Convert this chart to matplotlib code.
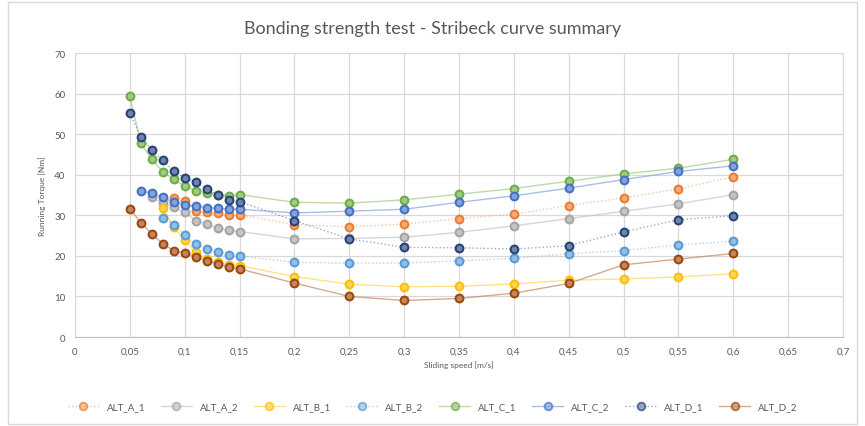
import numpy as np
import matplotlib
matplotlib.use('Agg')
import matplotlib.pyplot as plt
from matplotlib.colors import to_rgb
from matplotlib.ticker import FuncFormatter, MultipleLocator
from matplotlib.patches import Rectangle

plt.rcParams['font.family'] = ['Lato', 'DejaVu Sans']

nan = np.nan

# sliding speed [m/s]
speed = [0.05, 0.06, 0.07, 0.08, 0.09, 0.10, 0.11, 0.12, 0.13, 0.14, 0.15,
         0.20, 0.25, 0.30, 0.35, 0.40, 0.45, 0.50, 0.55, 0.60]

# running torque [Nm]
alt_a_1 = [nan, nan, nan, nan, 34.3, 33.6, 31.1, 30.7, 30.5, 30.1, 30.1,
           27.7, 27.2, 27.8, 29.2, 30.3, 32.4, 34.3, 36.5, 39.5]
alt_a_2 = [nan, nan, 34.4, 33.0, 32.0, 30.7, 28.7, 27.8, 26.9, 26.3, 26.0,
           24.2, 24.3, 24.6, 25.8, 27.4, 29.2, 31.0, 32.8, 35.1]
alt_b_1 = [nan, nan, nan, 31.8, 27.0, 23.8, 21.0, 19.3, 18.4, 17.8, 17.6,
           14.9, 13.0, 12.4, 12.5, 13.1, 14.0, 14.3, 14.8, 15.6]
alt_b_2 = [nan, nan, nan, 29.4, 27.5, 25.2, 22.9, 21.7, 21.0, 20.3, 20.0,
           18.4, 18.2, 18.2, 18.8, 19.4, 20.5, 21.3, 22.7, 23.6]
alt_c_1 = [59.3, 47.7, 43.8, 40.7, 38.9, 37.2, 36.0, 35.6, 35.1, 34.8, 35.1,
           33.2, 33.0, 33.8, 35.2, 36.6, 38.4, 40.2, 41.6, 43.8]
alt_c_2 = [nan, 36.0, 35.5, 34.4, 33.2, 32.6, 32.3, 31.9, 31.8, 31.5, 31.5,
           30.6, 31.0, 31.5, 33.2, 34.8, 36.7, 38.8, 40.8, 42.2]
alt_d_1 = [55.1, 49.4, 46.1, 43.6, 40.8, 39.3, 38.1, 36.6, 35.0, 33.8, 33.4,
           28.7, 24.2, 22.1, 22.0, 21.7, 22.5, 25.9, 28.9, 29.9]
alt_d_2 = [31.6, 28.2, 25.4, 23.0, 21.3, 20.7, 19.8, 18.8, 18.0, 17.2, 16.8,
           13.3, 10.0, 9.0, 9.5, 10.8, 13.2, 17.8, 19.2, 20.6]

names = ['ALT_A_1', 'ALT_A_2', 'ALT_B_1', 'ALT_B_2',
         'ALT_C_1', 'ALT_C_2', 'ALT_D_1', 'ALT_D_2']
series = [alt_a_1, alt_a_2, alt_b_1, alt_b_2, alt_c_1, alt_c_2, alt_d_1, alt_d_2]
colors = ['#ED7D31', '#A5A5A5', '#FFC000', '#5B9BD5',
          '#70AD47', '#4472C4', '#264478', '#9E480E']
styles = [':', '-', '-', ':', '-', '-', ':', '-']

text_col = '#595959'


def tint(c, f):
    # blend a colour towards white
    r, g, b = to_rgb(c)
    return (r + (1 - r) * f, g + (1 - g) * f, b + (1 - b) * f)


fig = plt.figure(figsize=(8.65, 4.27), dpi=100)
ax = fig.add_axes([0.0867, 0.2084, 0.8879, 0.6651])

for name, vals, col, ls in zip(names, series, colors, styles):
    ax.plot(speed, vals, linestyle=ls, color=tint(col, 0.35), linewidth=1.0,
            alpha=0.7, marker='o', markersize=5.5,
            markerfacecolor=tint(col, 0.35), markeredgecolor=col,
            markeredgewidth=1.4, label=name)
    # markers drawn again without transparency
    ax.plot(speed, vals, linestyle='none', marker='o', markersize=5.5,
            markerfacecolor=tint(col, 0.35), markeredgecolor=col,
            markeredgewidth=1.4)

ax.set_xlim(0, 0.7)
ax.set_ylim(0, 70)
ax.xaxis.set_major_locator(MultipleLocator(0.05))
ax.yaxis.set_major_locator(MultipleLocator(10))
ax.xaxis.set_major_formatter(FuncFormatter(lambda v, p: f'{round(v, 2):g}'.replace('.', ',')))
ax.yaxis.set_major_formatter(FuncFormatter(lambda v, p: f'{v:g}'))
ax.grid(True, color='#D9D9D9', linewidth=0.9)
ax.set_axisbelow(True)
for s in ax.spines.values():
    s.set_color('#D9D9D9')
ax.spines['bottom'].set_color('#BFBFBF')
ax.tick_params(length=0, labelsize=7, colors=text_col, pad=7)

ax.set_xlabel('Sliding speed [m/s]', fontsize=6, color=text_col, labelpad=3)
ax.set_ylabel('Running Torque [Nm]', fontsize=6, color=text_col, labelpad=6)
fig.suptitle('Bonding strength test - Stribeck curve summary', y=0.95,
             fontsize=13, color=text_col)

handles, labels = ax.get_legend_handles_labels()
fig.legend(handles, labels, loc='center', bbox_to_anchor=(0.5, 0.045), ncol=8,
           frameon=False, fontsize=7, handlelength=3.2, columnspacing=1.6,
           labelcolor=text_col)

fig.add_artist(Rectangle((0.009, 0.005), 0.982, 0.988, transform=fig.transFigure,
                         fill=False, edgecolor='#D9D9D9', linewidth=1))

fig.savefig('out.png', dpi=100)
